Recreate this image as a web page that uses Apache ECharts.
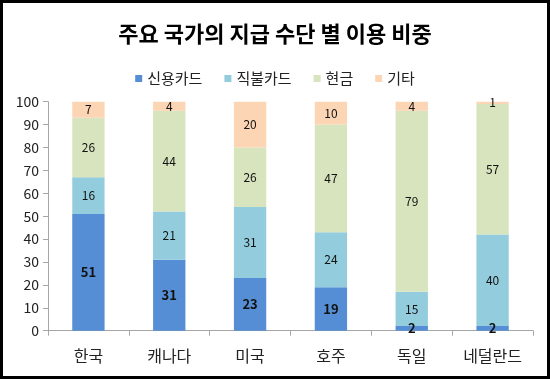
<!DOCTYPE html>
<html><head><meta charset="utf-8">
<script src="https://cdn.jsdelivr.net/npm/echarts@6/dist/echarts.min.js"></script>
<style>html,body{margin:0;padding:0;background:#fff}#c{width:550px;height:379px}</style>
</head><body><div id="c"></div>
<script>
const categories = ['한국','캐나다','미국','호주','독일','네덜란드'];
const credit = [51,31,23,19,2,2];
const debit = [16,21,31,24,15,40];
const cash = [26,44,26,47,79,57];
const other = [7,4,20,10,4,1];
const seriesNames = ['신용카드','직불카드','현금','기타'];
const yTicks = [0,10,20,30,40,50,60,70,80,90,100];

const font = '"Noto Sans CJK KR","Noto Sans",sans-serif';
const colors = ['#558ED5','#93CDDD','#D7E4BD','#FCD5B5'];
const dataSets = [credit, debit, cash, other];
const chart = echarts.init(document.getElementById('c'));
chart.setOption({
  animation:false,
  title:{text:'주요 국가의 지급 수단 별 이용 비중',left:'center',top:18,
    textStyle:{fontFamily:font,fontSize:22,fontWeight:'bold',color:'#000'}},
  legend:{top:66,left:'center',itemWidth:7,itemHeight:7,itemGap:22,icon:'rect',
    textStyle:{fontFamily:font,fontSize:15,color:'#222'},data:seriesNames},
  grid:{left:48,right:17,top:101.7,bottom:48.3,containLabel:false},
  xAxis:{type:'category',data:categories,
    axisLine:{lineStyle:{color:'#A6A6A6'}},
    axisTick:{show:true,length:5,lineStyle:{color:'#A6A6A6'}},
    axisLabel:{fontFamily:font,fontSize:16,color:'#222',margin:17}},
  yAxis:{type:'value',min:0,max:100,interval:10,
    axisLine:{show:true,lineStyle:{color:'#A6A6A6'}},
    axisTick:{show:true,length:5,lineStyle:{color:'#A6A6A6'}},
    splitLine:{show:false},
    axisLabel:{fontFamily:font,fontSize:14,color:'#222',margin:9,
      formatter:v=>yTicks.includes(v)?String(v):''}},
  series: dataSets.map((d,i)=>({
    name:seriesNames[i],type:'bar',stack:'s',data:d,barWidth:'40%',
    itemStyle:{color:colors[i]},
    label:{show:true,position:'inside',fontFamily:font,fontSize:i===0?13:12,
      color:'#111',fontWeight:i===0?'bold':'normal'}
  })),
  graphic:[{type:'rect',shape:{x:1.5,y:1.5,width:547,height:376},
    style:{fill:'none',stroke:'#000',lineWidth:3},silent:true}]
});
</script></body></html>
